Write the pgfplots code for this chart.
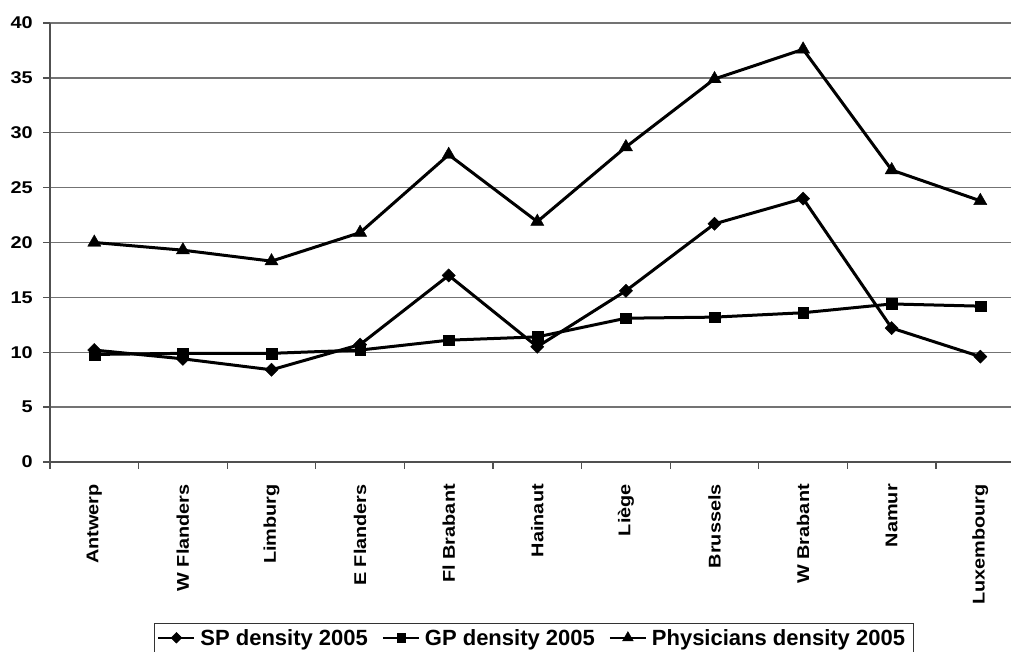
\documentclass[border=0pt]{standalone}
\usepackage{fontspec}
\setmainfont{Liberation Sans}
\newfontfamily\tickfont{Liberation Sans}[FakeStretch=1.17]
\usepackage{pgfplots}
\pgfplotsset{compat=1.18}
\pgfdeclareplotmark{sqdiamond}{%
  \pgfpathmoveto{\pgfqpoint{0pt}{\pgfplotmarksize}}%
  \pgfpathlineto{\pgfqpoint{\pgfplotmarksize}{0pt}}%
  \pgfpathlineto{\pgfqpoint{0pt}{-\pgfplotmarksize}}%
  \pgfpathlineto{\pgfqpoint{-\pgfplotmarksize}{0pt}}%
  \pgfpathclose\pgfusepathqfillstroke}
\definecolor{gridgray}{RGB}{115,115,115}
\definecolor{axgray}{RGB}{80,80,80}
\begin{document}
\begin{tikzpicture}[x=1pt,y=1pt]
\useasboundingbox (0,0) rectangle (1011,652);
\begin{axis}[
  at={(50pt,190pt)}, anchor=south west, scale only axis,
  width=974.6pt, height=439pt,
  xmin=-0.5, xmax=10.5, ymin=0, ymax=40,
  axis x line=bottom, axis y line=left,
  axis line style={-, draw=axgray, line width=1.3pt},
  xtick={-0.5,0.5,...,10.5},
  x tick label as interval,
  xticklabels={Antwerp,W Flanders,Limburg,E Flanders,Fl Brabant,Hainaut,Liège,Brussels,W Brabant,Namur,Luxembourg},
  ytick={0,5,...,40},
  ymajorgrids, grid style={draw=gridgray, line width=1.3pt},
  tick align=outside, major tick length=7pt,
  tick style={draw=axgray, line width=1.3pt},
  /pgf/number format/assume math mode=true,
  ticklabel style={font=\tickfont\fontsize{17}{20}\selectfont\bfseries},
  x tick label style={yshift=-15pt, rotate=90, anchor=east, inner sep=0pt},
  y tick label style={anchor=east, inner sep=0pt, xshift=-10pt},
  legend columns=3,
  legend style={at={(axis description cs:0.1067,-0.366)}, anchor=north west,
    draw=black!80, line width=0.8pt, inner xsep=3pt, inner ysep=2pt,
    font=\fontsize{22}{26}\selectfont\bfseries,
    nodes={inner ysep=4pt, inner xsep=5pt},
    /tikz/every even column/.append style={column sep=9pt}},
  legend image code/.code={%
    \draw[#1, mark=none, line width=2pt] (0pt,0pt) -- (36pt,0pt);
    \draw[#1, only marks] plot coordinates {(18pt,0pt)};},
]
\addplot[black, line width=3pt, mark=sqdiamond, mark size=6.6pt,
  mark options={line width=0.4pt, fill=black},
  legend image post style={mark size=5.4pt}]
  coordinates {(0,10.2)(1,9.4)(2,8.4)(3,10.7)(4,17.0)(5,10.5)(6,15.6)(7,21.7)(8,24.0)(9,12.2)(10,9.6)};
\addlegendentry{SP density 2005}
\addplot[black, line width=3pt, mark=square*, mark size=5.4pt,
  mark options={line width=0.4pt, fill=black},
  legend image post style={mark size=4.2pt}]
  coordinates {(0,9.8)(1,9.9)(2,9.9)(3,10.2)(4,11.1)(5,11.4)(6,13.1)(7,13.2)(8,13.6)(9,14.4)(10,14.2)};
\addlegendentry{GP density 2005}
\addplot[black, line width=3pt, mark=triangle*, mark size=7.6pt,
  mark options={line width=0.4pt, fill=black},
  legend image post style={mark size=6.2pt}]
  coordinates {(0,20.0)(1,19.3)(2,18.3)(3,20.9)(4,28.0)(5,21.9)(6,28.7)(7,34.9)(8,37.6)(9,26.6)(10,23.8)};
\addlegendentry{Physicians density 2005}
\end{axis}
\end{tikzpicture}
\end{document}
